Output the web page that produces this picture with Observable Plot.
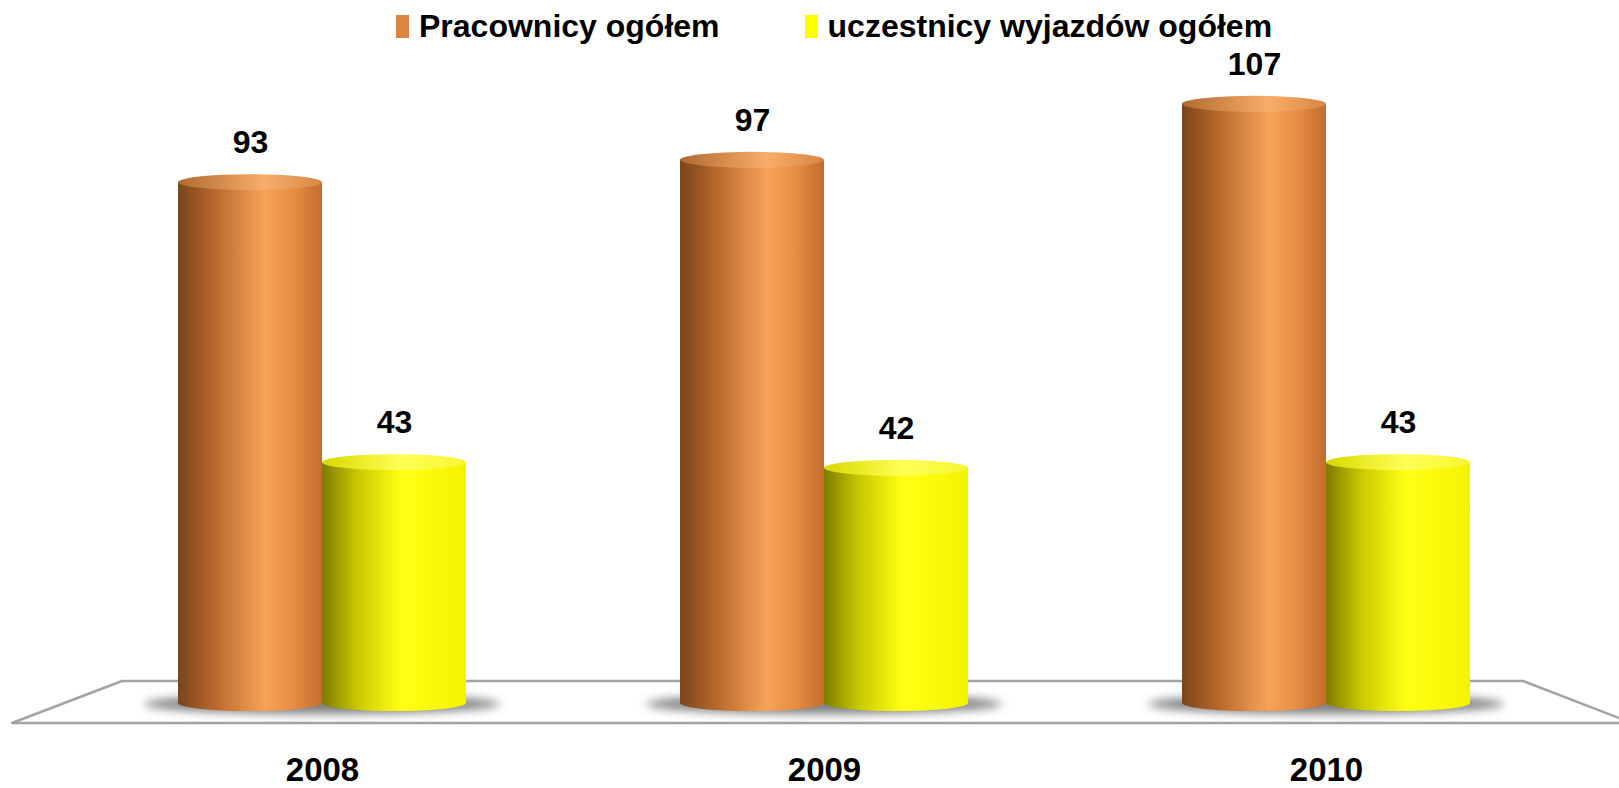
<!DOCTYPE html>
<html>
<head>
<meta charset="utf-8">
<script src="https://cdn.jsdelivr.net/npm/d3@7"></script>
<script src="https://cdn.jsdelivr.net/npm/@observablehq/plot@0.6"></script>
<style>
html, body { margin: 0; padding: 0; background: #fff; overflow: hidden; }
body { font-family: "Liberation Sans", Arial, sans-serif; }
#legend { height: 50px; display: flex; align-items: center; padding-left: 396px; box-sizing: border-box;
  font-weight: bold; font-size: 32px; color: #000; line-height: 1; padding-top: 2px; }
#legend .sw { display: inline-block; width: 13px; height: 23px; margin-right: 10px; }
#legend .item { display: flex; align-items: center; }
#legend .item + .item { margin-left: 85px; }
</style>
</head>
<body>
<div id="legend"></div>
<div id="chart"></div>
<script>
// ---- data ----
const years = ["2008", "2009", "2010"];
const seriesNames = ["Pracownicy ogółem", "uczestnicy wyjazdów ogółem"];
const pracownicy = [93, 97, 107];
const uczestnicy = [43, 42, 43];
const legendColors = ["#dd8440", "#ffff00"];

const data = years.flatMap((y, i) => [
  {year: y, series: seriesNames[0], value: pracownicy[i]},
  {year: y, series: seriesNames[1], value: uczestnicy[i]}
]);

// ---- legend ----
const legend = document.getElementById("legend");
seriesNames.forEach((name, i) => {
  const item = document.createElement("div");
  item.className = "item";
  const sw = document.createElement("span");
  sw.className = "sw";
  sw.style.background = legendColors[i];
  const t = document.createElement("span");
  t.textContent = name;
  item.appendChild(sw);
  item.appendChild(t);
  legend.appendChild(item);
});

const ns = "http://www.w3.org/2000/svg";
const topFill = {"url(#gradO)": "url(#gradOT)", "url(#gradY)": "url(#gradYT)"};

function mkEllipse(doc, cx, cy, rx, ry, fill) {
  const e = doc.createElementNS(ns, "ellipse");
  e.setAttribute("cx", cx); e.setAttribute("cy", cy);
  e.setAttribute("rx", rx); e.setAttribute("ry", ry);
  e.setAttribute("fill", fill);
  return e;
}

// turns each bar into a cylinder (bottom + top ellipse) with a floor shadow
function cylinders(index, scales, values, dimensions, context, next) {
  const g = next(index, scales, values, dimensions, context);
  const doc = context.document;
  const rects = Array.from(g.querySelectorAll("rect"));
  if (!rects.length) return g;
  const ry = 8;
  let x0 = Infinity, x1 = -Infinity, yb = 0;
  rects.forEach(r => {
    const x = +r.getAttribute("x"), w = +r.getAttribute("width");
    x0 = Math.min(x0, x); x1 = Math.max(x1, x + w);
    yb = Math.max(yb, +r.getAttribute("y") + +r.getAttribute("height"));
  });
  const parent = rects[0].parentNode;
  const sh = mkEllipse(doc, (x0 + x1) / 2, yb + 1, (x1 - x0) / 2 + 34, 10, "#808080");
  sh.setAttribute("filter", "url(#blur)");
  parent.insertBefore(sh, parent.firstChild);
  rects.forEach(r => {
    const x = +r.getAttribute("x"), y = +r.getAttribute("y"),
          w = +r.getAttribute("width"), h = +r.getAttribute("height");
    const fill = r.getAttribute("fill");
    const bot = mkEllipse(doc, x + w / 2, y + h, w / 2, ry, fill);
    parent.insertBefore(bot, r);
    const top = mkEllipse(doc, x + w / 2, y, w / 2, ry, topFill[fill] || fill);
    r.after(top);
  });
  return g;
}

const plot = Plot.plot({
  width: 1619,
  height: 738,
  marginTop: 37,
  marginBottom: 85,
  marginLeft: 71,
  marginRight: 42,
  style: {fontFamily: "'Liberation Sans', Arial, sans-serif", background: "transparent", overflow: "visible", color: "#000"},
  fx: {domain: years, padding: 0, label: null},
  x: {domain: seriesNames, paddingInner: 0, paddingOuter: 0.743, axis: null},
  y: {domain: [0, 110], axis: null},
  color: {domain: seriesNames, range: ["url(#gradO)", "url(#gradY)"]},
  marks: [
    Plot.barY(data, {fx: "year", x: "series", y: "value", fill: "series", render: cylinders}),
    Plot.text(data, {fx: "year", x: "series", y: "value", text: d => String(d.value),
      dy: -40, lineAnchor: "middle", fontSize: 32, fontWeight: "bold", fill: "#000"}),
    Plot.axisFx({anchor: "bottom", tickSize: 0, tickPadding: 54, fontSize: 33, fontWeight: "bold", label: null, fill: "#000"})
  ]
});

// ---- defs: gradients + blur ----
function grad(id, stops) {
  const lg = document.createElementNS(ns, "linearGradient");
  lg.setAttribute("id", id);
  lg.setAttribute("x1", "0"); lg.setAttribute("x2", "1");
  lg.setAttribute("y1", "0"); lg.setAttribute("y2", "0");
  stops.forEach(([o, c]) => {
    const s = document.createElementNS(ns, "stop");
    s.setAttribute("offset", o); s.setAttribute("stop-color", c);
    lg.appendChild(s);
  });
  return lg;
}
const defs = document.createElementNS(ns, "defs");
defs.appendChild(grad("gradO", [[0, "#7a4519"], [0.25, "#b8672c"], [0.6, "#f6a358"], [0.8, "#e88d44"], [1, "#c36c2c"]]));
defs.appendChild(grad("gradOT", [[0, "#b06a30"], [0.6, "#f8ae6a"], [1, "#d88644"]]));
defs.appendChild(grad("gradY", [[0, "#7c7c00"], [0.25, "#caca00"], [0.55, "#ffff14"], [1, "#f4f400"]]));
defs.appendChild(grad("gradYT", [[0, "#d8d800"], [0.55, "#ffff55"], [1, "#f6f630"]]));
const filt = document.createElementNS(ns, "filter");
filt.setAttribute("id", "blur");
filt.setAttribute("x", "-50%"); filt.setAttribute("y", "-100%");
filt.setAttribute("width", "200%"); filt.setAttribute("height", "300%");
const fb = document.createElementNS(ns, "feGaussianBlur");
fb.setAttribute("stdDeviation", "5");
filt.appendChild(fb);
defs.appendChild(filt);
plot.insertBefore(defs, plot.firstChild);

// ---- floor (3D base plane) placed from the y scale ----
const y0 = plot.scale("y").apply(0);
const floor = document.createElementNS(ns, "path");
const back = y0 - 22, front = y0 + 20;
floor.setAttribute("d", `M12,${front} L122,${back} L1523,${back} L1632,${front} Z`);
floor.setAttribute("fill", "#fff");
floor.setAttribute("stroke", "#a3a3a3");
floor.setAttribute("stroke-width", "2.5");
floor.setAttribute("stroke-linejoin", "round");
const firstG = plot.querySelector(":scope > g");
plot.insertBefore(floor, firstG);

document.getElementById("chart").appendChild(plot);
</script>
</body>
</html>
